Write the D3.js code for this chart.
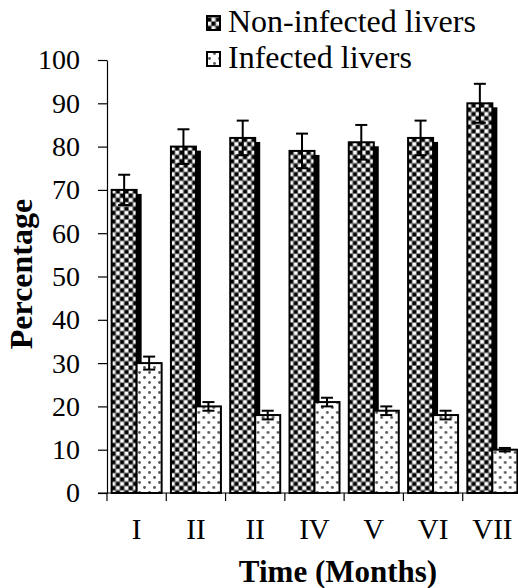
<!DOCTYPE html>
<html>
<head>
<meta charset="utf-8">
<script src="https://cdn.jsdelivr.net/npm/d3@7"></script>
<style>
  body { margin: 0; background: #fff; }
  text { font-family: "Liberation Serif", "Times New Roman", serif; fill: #000; }
</style>
</head>
<body>
<div id="chart"></div>
<script>
// Data
const months = ["I", "II", "II ", "IV", "V", "VI", "VII"];
const series = ["Non-infected livers", "Infected livers"];
const nonInfected = [70, 80, 82, 79, 81, 82, 90];
const nonInfectedErr = [3.5, 4, 4, 4, 4, 4, 4.5];
const infected = [30, 20, 18, 21, 19, 18, 10];
const infectedErr = [1.5, 1, 1, 1, 1, 1, 0.4];
const yTicks = [0, 10, 20, 30, 40, 50, 60, 70, 80, 90, 100];

const width = 518, height = 588;
const margin = { top: 60, right: -4, bottom: 95, left: 107 };

const svg = d3.select("#chart").append("svg")
    .attr("width", width)
    .attr("height", height);

// Fill patterns
const defs = svg.append("defs");
const checker = defs.append("pattern")
    .attr("id", "checker")
    .attr("patternUnits", "userSpaceOnUse")
    .attr("width", 8.6).attr("height", 8.6);
checker.append("rect").attr("width", 8.6).attr("height", 8.6).attr("fill", "#7a7a7a");
checker.append("rect").attr("x", 0.5).attr("y", 0.5).attr("width", 3.5).attr("height", 3.5).attr("fill", "#000");
checker.append("rect").attr("x", 4.8).attr("y", 0.5).attr("width", 3.3).attr("height", 3.3).attr("fill", "#fff");
checker.append("rect").attr("x", 0.5).attr("y", 4.8).attr("width", 3.3).attr("height", 3.3).attr("fill", "#fff");
checker.append("rect").attr("x", 4.8).attr("y", 4.8).attr("width", 3.5).attr("height", 3.5).attr("fill", "#000");

const dots = defs.append("pattern")
    .attr("id", "dots")
    .attr("patternUnits", "userSpaceOnUse")
    .attr("width", 10).attr("height", 10);
dots.append("rect").attr("width", 10).attr("height", 10).attr("fill", "#fff");
dots.append("circle").attr("cx", 2.5).attr("cy", 2.5).attr("r", 1.4).attr("fill", "#555");
dots.append("circle").attr("cx", 7.5).attr("cy", 7.5).attr("r", 1.4).attr("fill", "#555");

const fills = { "Non-infected livers": "url(#checker)", "Infected livers": "url(#dots)" };

// Scales
const x0 = d3.scaleBand()
    .domain(months)
    .range([margin.left, width - margin.right])
    .paddingInner(0).paddingOuter(0);

const x1 = d3.scaleBand()
    .domain(series)
    .range([0, x0.bandwidth()])
    .paddingInner(0).paddingOuter(0.186);

const y = d3.scaleLinear()
    .domain([0, 100])
    .range([height - margin.bottom, margin.top]);

const rows = months.map((m, i) => ({
    month: m,
    values: [
        { key: series[0], value: nonInfected[i], err: nonInfectedErr[i] },
        { key: series[1], value: infected[i], err: infectedErr[i] }
    ]
}));

// Axes
const yAxis = svg.append("g")
    .attr("transform", `translate(${margin.left},0)`)
    .call(d3.axisLeft(y).tickValues(yTicks).tickSize(9).tickPadding(18).tickSizeOuter(0));
yAxis.select(".domain").attr("stroke-width", 1.2);
yAxis.selectAll(".tick line").attr("stroke-width", 1.2);
yAxis.selectAll("text").style("font-size", "28px");

const groups = svg.append("g").selectAll("g")
    .data(rows)
    .enter().append("g")
    .attr("transform", d => `translate(${x0(d.month)},0)`);

// Shadow behind the non-infected bars
groups.append("rect")
    .attr("x", x1(series[0]) + 5)
    .attr("y", d => y(d.values[0].value) + 4)
    .attr("width", x1.bandwidth())
    .attr("height", d => y(0) - y(d.values[0].value) - 4)
    .attr("fill", "#000");

// Bars
groups.selectAll("rect.bar")
    .data(d => d.values)
    .enter().append("rect")
    .attr("class", "bar")
    .attr("x", d => x1(d.key))
    .attr("y", d => y(d.value))
    .attr("width", x1.bandwidth())
    .attr("height", d => y(0) - y(d.value))
    .attr("fill", d => fills[d.key])
    .attr("stroke", "#000")
    .attr("stroke-width", 2);

// Error bars
const err = groups.selectAll("g.err")
    .data(d => d.values)
    .enter().append("g")
    .attr("class", "err")
    .attr("stroke", "#000")
    .attr("stroke-width", 2);
err.append("line")
    .attr("x1", d => x1(d.key) + x1.bandwidth() / 2)
    .attr("x2", d => x1(d.key) + x1.bandwidth() / 2)
    .attr("y1", d => y(d.value - d.err))
    .attr("y2", d => y(d.value + d.err));
err.append("line")
    .attr("x1", d => x1(d.key) + x1.bandwidth() / 2 - 6)
    .attr("x2", d => x1(d.key) + x1.bandwidth() / 2 + 6)
    .attr("y1", d => y(d.value + d.err))
    .attr("y2", d => y(d.value + d.err));
err.append("line")
    .attr("x1", d => x1(d.key) + x1.bandwidth() / 2 - 6)
    .attr("x2", d => x1(d.key) + x1.bandwidth() / 2 + 6)
    .attr("y1", d => y(d.value - d.err))
    .attr("y2", d => y(d.value - d.err));

// X axis with ticks at band boundaries
const xAxis = svg.append("g")
    .attr("transform", `translate(0,${y(0)})`);
xAxis.append("line")
    .attr("x1", margin.left - 9).attr("x2", width)
    .attr("stroke", "#000").attr("stroke-width", 1.2);
xAxis.selectAll("line.tick")
    .data(months)
    .enter().append("line")
    .attr("class", "tick")
    .attr("x1", d => x0(d)).attr("x2", d => x0(d))
    .attr("y1", 0).attr("y2", 8)
    .attr("stroke", "#000").attr("stroke-width", 1.2);
xAxis.selectAll("text")
    .data(months)
    .enter().append("text")
    .attr("x", d => x0(d) + x0.bandwidth() / 2)
    .attr("y", 46)
    .attr("text-anchor", "middle")
    .style("font-size", "29px")
    .text(d => d.trim());

// Axis titles
svg.append("text")
    .attr("x", 338)
    .attr("y", 582)
    .attr("text-anchor", "middle")
    .style("font-size", "31px")
    .style("font-weight", "bold")
    .text("Time (Months)");

svg.append("text")
    .attr("transform", "translate(32,274) rotate(-90)")
    .attr("text-anchor", "middle")
    .style("font-size", "32px")
    .style("font-weight", "bold")
    .text("Percentage");

// Legend
const legend = svg.append("g")
    .attr("transform", "translate(207,0)");
const items = legend.selectAll("g")
    .data(series)
    .enter().append("g")
    .attr("transform", (d, i) => `translate(0,${i * 36})`);
items.append("rect")
    .attr("x", 0).attr("y", 16)
    .attr("width", 13).attr("height", 14)
    .attr("fill", d => fills[d])
    .attr("stroke", "#000").attr("stroke-width", 2);
items.append("text")
    .attr("x", 21).attr("y", 32)
    .style("font-size", "32px")
    .text(d => d);
</script>
</body>
</html>
